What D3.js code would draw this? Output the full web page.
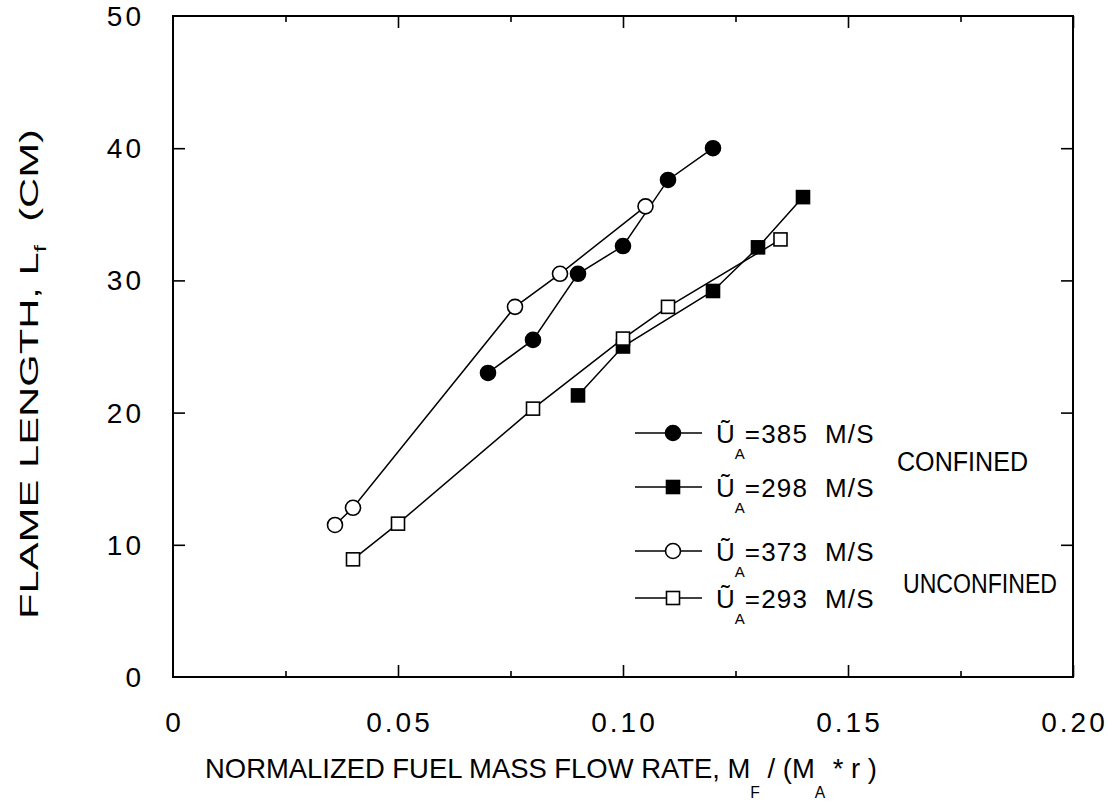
<!DOCTYPE html>
<html>
<head>
<meta charset="utf-8">
<script src="https://cdn.jsdelivr.net/npm/d3@7"></script>
<style>
  body { margin: 0; background: #fff; }
  svg { display: block; font-family: "Liberation Sans", Arial, sans-serif; }
  text { fill: #000; white-space: pre; }
</style>
</head>
<body>
<svg id="chart"></svg>
<script>
const W = 1108, H = 808

// confined, U_A = 385 m/s
const conf385X = [0.07, 0.08, 0.09, 0.10, 0.11, 0.12]
const conf385Y = [23.0, 25.5, 30.5, 32.6, 37.6, 40.0]
// confined, U_A = 298 m/s
const conf298X = [0.09, 0.10, 0.12, 0.13, 0.14]
const conf298Y = [21.3, 25.0, 29.2, 32.5, 36.3]
// unconfined, U_A = 373 m/s
const unc373X = [0.036, 0.04, 0.076, 0.086, 0.105]
const unc373Y = [11.5, 12.8, 28.0, 30.5, 35.6]
// unconfined, U_A = 293 m/s
const unc293X = [0.04, 0.05, 0.08, 0.10, 0.11, 0.135]
const unc293Y = [8.9, 11.6, 20.3, 25.6, 28.0, 33.1]

const legendValues = ['385', '298', '373', '293']
const xTickLabels = ['0', '0.05', '0.10', '0.15', '0.20']
const yTickLabels = ['0', '10', '20', '30', '40', '50']

const series = [
  { xs: conf385X, ys: conf385Y, shape: 'circle', filled: true },
  { xs: conf298X, ys: conf298Y, shape: 'square', filled: true },
  { xs: unc373X, ys: unc373Y, shape: 'circle', filled: false },
  { xs: unc293X, ys: unc293Y, shape: 'square', filled: false }
]

const svg = d3.select('#chart').attr('width', W).attr('height', H)

const x = d3.scaleLinear().domain([0, 0.2]).range([173, 1073])
const y = d3.scaleLinear().domain([0, 50]).range([677, 16])

// frame
svg.append('rect')
  .attr('x', x(0)).attr('y', y(50))
  .attr('width', x(0.2) - x(0)).attr('height', y(0) - y(50))
  .attr('fill', 'none').attr('stroke', '#000').attr('stroke-width', 2)

// inward ticks
const xMajor = d3.range(0.05, 0.2, 0.05)
const xMinor = [0.025, 0.075, 0.125, 0.175]
const yMajor = d3.range(10, 50, 10)

function tickAxis(axisFn, scale, ticks, size, pos) {
  const g = svg.append('g')
    .attr('transform', pos)
    .call(axisFn(scale).tickValues(ticks).tickSize(size).tickFormat(''))
  g.select('.domain').remove()
  g.selectAll('line').attr('stroke-width', 1.6)
}
tickAxis(d3.axisBottom, x, xMajor, -12, `translate(0,${y(0)})`)
tickAxis(d3.axisBottom, x, xMinor, -6, `translate(0,${y(0)})`)
tickAxis(d3.axisTop, x, xMajor, -12, `translate(0,${y(50)})`)
tickAxis(d3.axisTop, x, xMinor, -6, `translate(0,${y(50)})`)
tickAxis(d3.axisLeft, y, yMajor, -12, `translate(${x(0)},0)`)
tickAxis(d3.axisRight, y, yMajor, -12, `translate(${x(0.2)},0)`)

// tick labels
svg.append('g').selectAll('text')
  .data(xTickLabels)
  .join('text')
    .attr('x', d => x(+d) + 1.5)
    .attr('y', 732)
    .attr('text-anchor', 'middle')
    .attr('font-size', 28)
    .attr('letter-spacing', 3)
    .text(d => d)

svg.append('g').selectAll('text')
  .data(yTickLabels)
  .join('text')
    .attr('x', 144)
    .attr('y', d => y(+d) + 10)
    .attr('text-anchor', 'end')
    .attr('font-size', 28)
    .attr('letter-spacing', 3)
    .text(d => d)

// axis titles
const yTitle = svg.append('text')
  .attr('transform', 'translate(38,374) rotate(-90)')
  .attr('text-anchor', 'middle')
  .attr('font-size', 26)
  .attr('textLength', 490)
  .attr('lengthAdjust', 'spacingAndGlyphs')
yTitle.append('tspan').text('FLAME LENGTH, L')
yTitle.append('tspan').attr('dy', 8).attr('font-size', 16).text('f')
yTitle.append('tspan').attr('dy', -8).text('  (CM)')

const xTitle = svg.append('text')
  .attr('x', 541).attr('y', 778)
  .attr('text-anchor', 'middle')
  .attr('font-size', 28)
  .attr('textLength', 672)
  .attr('lengthAdjust', 'spacingAndGlyphs')
xTitle.append('tspan').text('NORMALIZED FUEL MASS FLOW RATE, M')
xTitle.append('tspan').attr('dy', 20).attr('font-size', 16).text('F')
xTitle.append('tspan').attr('dy', -20).text(' / (M')
xTitle.append('tspan').attr('dy', 20).attr('font-size', 16).text('A')
xTitle.append('tspan').attr('dy', -20).text(' * r )')

// series
const line = d3.line().x(d => x(d[0])).y(d => y(d[1]))

function drawMarker(g, shape, filled) {
  if (shape === 'circle') {
    g.append('circle').attr('r', 7.5)
  } else {
    g.append('rect').attr('x', -6.5).attr('y', -6.5).attr('width', 13).attr('height', 13)
  }
  g.selectAll('circle, rect')
    .attr('fill', filled ? '#000' : '#fff')
    .attr('stroke', '#000')
    .attr('stroke-width', 1.6)
}

series.forEach(s => {
  const pts = s.xs.map((v, i) => [v, s.ys[i]])
  svg.append('path')
    .datum(pts)
    .attr('d', line)
    .attr('fill', 'none')
    .attr('stroke', '#000')
    .attr('stroke-width', 1.5)
  svg.append('g').selectAll('g')
    .data(pts)
    .join('g')
      .attr('transform', d => `translate(${x(d[0])},${y(d[1])})`)
      .each(function() { drawMarker(d3.select(this), s.shape, s.filled) })
})

// legend
const legendRows = [433, 487, 551, 598]
const legend = svg.append('g')
legendValues.forEach((v, i) => {
  const ry = legendRows[i]
  legend.append('line')
    .attr('x1', 635).attr('x2', 702)
    .attr('y1', ry).attr('y2', ry)
    .attr('stroke', '#000').attr('stroke-width', 1.5)
  drawMarker(legend.append('g').attr('transform', `translate(673,${ry})`), series[i].shape, series[i].filled)
  const t = legend.append('text')
    .attr('x', 716).attr('y', ry + 10)
    .attr('font-size', 26)
  t.append('tspan').text('Ũ')
  t.append('tspan').attr('dy', 16).attr('font-size', 15).text('A')
  t.append('tspan').attr('dy', -16).attr('letter-spacing', 1.2).text(`=${v}  M/S`)
})

legend.append('text')
  .attr('x', 897).attr('y', 471)
  .attr('font-size', 27)
  .attr('textLength', 131)
  .attr('lengthAdjust', 'spacingAndGlyphs')
  .text('CONFINED')
legend.append('text')
  .attr('x', 903).attr('y', 593)
  .attr('font-size', 27)
  .attr('textLength', 154)
  .attr('lengthAdjust', 'spacingAndGlyphs')
  .text('UNCONFINED')
</script>
</body>
</html>
